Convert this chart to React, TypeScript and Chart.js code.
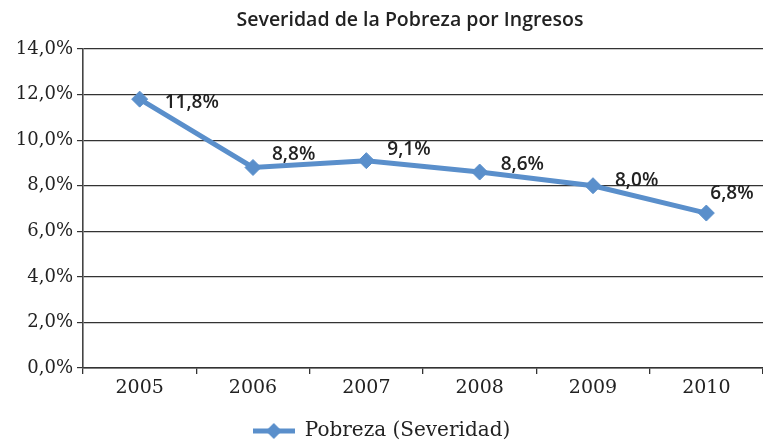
import React, { useEffect, useRef } from "react";
import { Chart, registerables } from "chart.js";

Chart.register(...registerables);

const categories = ["2005", "2006", "2007", "2008", "2009", "2010"];
const severidad = [11.8, 8.8, 9.1, 8.6, 8.0, 6.8];
const yTicks = [0, 2, 4, 6, 8, 10, 12, 14];
const seriesName = "Pobreza (Severidad)";
const titleText = "Severidad de la Pobreza por Ingresos";

const LINE_COLOR = "#5A8FCB";
const GRID_COLOR = "#333333";
const TEXT_COLOR = "#222222";

const fmt = (v: number) => v.toFixed(1).replace(".", ",") + "%";

export default function App() {
  const ref = useRef<HTMLCanvasElement | null>(null);

  useEffect(() => {
    if (!ref.current) return;

    // legend symbol: line with diamond
    const sym = document.createElement("canvas");
    sym.width = 42;
    sym.height = 18;
    const sctx = sym.getContext("2d")!;
    sctx.strokeStyle = LINE_COLOR;
    sctx.lineWidth = 5;
    sctx.beginPath();
    sctx.moveTo(0, 9);
    sctx.lineTo(42, 9);
    sctx.stroke();
    sctx.fillStyle = LINE_COLOR;
    sctx.beginPath();
    sctx.moveTo(21, 1);
    sctx.lineTo(29, 9);
    sctx.lineTo(21, 17);
    sctx.lineTo(13, 9);
    sctx.closePath();
    sctx.fill();

    const labelOffsets = [
      [25, 3],
      [19, -13],
      [21, -11],
      [21, -7],
      [22, -5],
      [4, -19],
    ];

    const dataLabels = {
      id: "dataLabels",
      afterDatasetsDraw(chart: any) {
        const ctx = chart.ctx;
        const meta = chart.getDatasetMeta(0);
        ctx.save();
        ctx.font = "600 19px 'Open Sans'";
        ctx.fillStyle = TEXT_COLOR;
        ctx.textAlign = "left";
        ctx.textBaseline = "middle";
        meta.data.forEach((pt: any, i: number) => {
          const [dx, dy] = labelOffsets[i] || [20, -8];
          ctx.fillText(fmt(severidad[i]), pt.x + dx, pt.y + dy);
        });
        ctx.restore();
      },
    };

    const titlePlugin = {
      id: "customTitle",
      afterDraw(chart: any) {
        const ctx = chart.ctx;
        ctx.save();
        ctx.font = "600 19.5px 'Open Sans'";
        ctx.fillStyle = TEXT_COLOR;
        ctx.textAlign = "center";
        ctx.textBaseline = "middle";
        ctx.fillText(titleText, 410, 20);
        ctx.restore();
      },
    };

    const chart = new Chart(ref.current, {
      type: "line",
      data: {
        labels: categories,
        datasets: [
          {
            label: seriesName,
            data: severidad,
            borderColor: LINE_COLOR,
            backgroundColor: LINE_COLOR,
            borderWidth: 5,
            pointStyle: "rectRot",
            pointRadius: 8,
            pointBorderWidth: 1,
            pointBackgroundColor: LINE_COLOR,
            pointBorderColor: LINE_COLOR,
            tension: 0,
            fill: false,
          },
        ],
      },
      options: {
        animation: false,
        responsive: false,
        maintainAspectRatio: false,
        layout: { autoPadding: false, padding: { top: 49, right: 0, left: 0, bottom: -10 } },
        plugins: {
          title: { display: false },
          tooltip: { enabled: false },
          legend: {
            display: true,
            position: "bottom",
            labels: {
              usePointStyle: true,
              pointStyleWidth: 42,
              padding: 3,
              color: TEXT_COLOR,
              font: { family: "'DejaVu Serif'", size: 20 },
              generateLabels(c: any) {
                const items = Chart.defaults.plugins.legend.labels.generateLabels(c);
                items.forEach((it: any) => {
                  it.pointStyle = sym;
                });
                return items;
              },
            },
          },
        },
        scales: {
          x: {
            type: "category",
            offset: true,
            grid: {
              offset: true,
              drawOnChartArea: false,
              drawTicks: true,
              tickLength: 6,
              color: GRID_COLOR,
              lineWidth: 1.3,
            },
            border: { display: true, color: GRID_COLOR, width: 1.5 },
            ticks: {
              color: TEXT_COLOR,
              font: { family: "'DejaVu Serif'", size: 19 },
              padding: 3,
              maxRotation: 0,
            },
            afterFit(scale: any) {
              scale.height = 50;
              scale.paddingRight = 0;
              scale.paddingLeft = 0;
            },
          },
          y: {
            min: 0,
            max: 14,
            afterBuildTicks(scale: any) {
              scale.ticks = yTicks.map((v) => ({ value: v }));
            },
            grid: {
              color: GRID_COLOR,
              lineWidth: 1.2,
              drawTicks: true,
              tickLength: 6,
            },
            border: { display: true, color: "#444444", width: 1.6 },
            ticks: {
              color: TEXT_COLOR,
              font: { family: "'DejaVu Serif'", size: 18 },
              padding: 4,
              callback: (v: any) => fmt(Number(v)),
            },
            afterFit(scale: any) {
              scale.width = 83;
            },
          },
        },
      },
      plugins: [dataLabels, titlePlugin],
    });

    return () => chart.destroy();
  }, []);

  return (
    <div style={{ position: "fixed", left: 0, top: 0, width: 763, height: 441, background: "#fff" }}>
      <canvas ref={ref} width={763} height={441} />
    </div>
  );
}
